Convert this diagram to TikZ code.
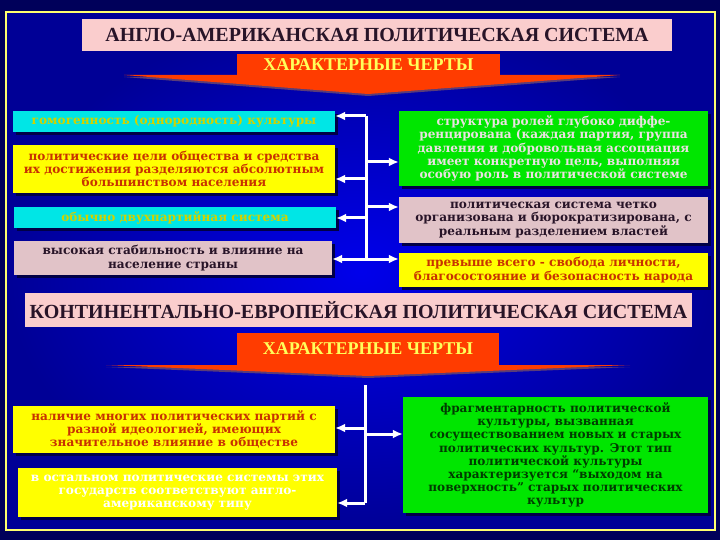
\documentclass[tikz,border=0pt]{standalone}
\usepackage{fontspec}
\setmainfont{Liberation Serif}
\newfontfamily\bodyfont{DejaVu Serif}
\usetikzlibrary{arrows.meta,shadows}

\definecolor{bgnavy}{RGB}{0,0,90}
\definecolor{bginner}{RGB}{0,0,235}
\definecolor{bgouter}{RGB}{0,0,150}
\definecolor{frameyellow}{RGB}{255,255,110}
\definecolor{shadownavy}{RGB}{0,0,70}
\definecolor{titlepink}{RGB}{250,205,205}
\definecolor{boxpink}{RGB}{225,195,200}
\definecolor{boxcyan}{RGB}{0,230,230}
\definecolor{boxyellow}{RGB}{255,255,0}
\definecolor{boxgreen}{RGB}{0,230,0}
\definecolor{arrowred}{RGB}{255,60,0}
\definecolor{wingshade}{RGB}{90,60,120}
\definecolor{featyellow}{RGB}{255,255,90}
\definecolor{textred}{RGB}{200,50,0}
\definecolor{textyellow}{RGB}{210,210,0}
\definecolor{textdark}{RGB}{40,20,40}
\definecolor{textlight}{RGB}{235,225,225}
\definecolor{textgreen}{RGB}{0,60,0}

\begin{document}
\begin{tikzpicture}[
    x=1pt, y=-1pt,
    >={Latex[length=10pt,width=9pt]},
    box/.style={rectangle, inner sep=0pt, align=center, font=\bodyfont\bfseries\fontsize{12.1}{13.2}\selectfont, drop shadow={fill=shadownavy, opacity=1, shadow xshift=3pt, shadow yshift=-3pt}},
    cyanbox/.style={box, fill=boxcyan, text=textyellow},
    yellowbox/.style={box, fill=boxyellow, text=textred},
    pinkbox/.style={box, fill=boxpink, text=textdark},
    greenbox/.style={box, fill=boxgreen, text=textlight},
    title/.style={rectangle, fill=titlepink, inner sep=0pt, text=textdark, font=\bfseries\fontsize{20}{22}\selectfont},
    feat/.style={rectangle, fill=arrowred, inner sep=0pt, text=featyellow, font=\bfseries\fontsize{18}{20}\selectfont},
    link/.style={->, draw=white, line width=3pt}
]

    \useasboundingbox (0, 0) rectangle (720, 540);
    \fill [bgnavy] (0, 0) rectangle (720, 540);
    \shade [inner color=bginner, outer color=bgouter] (6, 12) rectangle (715, 530);
    \draw [frameyellow, line width=2pt] (6, 12) rectangle (715, 530);

    \node [title, minimum width=590pt, minimum height=32pt] (T1) at (377, 35) {АНГЛО-АМЕРИКАНСКАЯ ПОЛИТИЧЕСКАЯ СИСТЕМА};
    \fill [wingshade] (124, 77) -- (620, 77) -- (368, 96) -- cycle;
    \fill [arrowred] (124, 75) -- (620, 75) -- (368, 94) -- cycle;
    \node [feat, minimum width=263pt, minimum height=21pt] (F1) at (368.5, 64.5) {ХАРАКТЕРНЫЕ ЧЕРТЫ};

    \node [cyanbox, minimum width=322pt, minimum height=21pt] (L1) at (174, 121.5) {гомогенность (однородность) культуры};
    \node [yellowbox, minimum width=322pt, minimum height=48pt] (L2) at (174, 169) {политические цели общества и средства\\их достижения разделяются абсолютным\\большинством населения};
    \node [cyanbox, minimum width=322pt, minimum height=21pt] (L3) at (175, 217.5) {обычно двухпартийная система};
    \node [pinkbox, minimum width=318pt, minimum height=34pt] (L4) at (173, 258) {высокая стабильность и влияние на\\население страны};

    \node [greenbox, minimum width=309pt, minimum height=75pt] (R1) at (553.5, 148.5) {структура ролей глубоко диффе-\\ренцирована (каждая партия, группа\\давления и добровольная ассоциация\\имеет конкретную цель, выполняя\\особую роль в политической системе};
    \node [pinkbox, minimum width=309pt, minimum height=46pt] (R2) at (553.5, 220) {политическая система четко\\организована и бюрократизирована, с\\реальным разделением властей};
    \node [yellowbox, minimum width=309pt, minimum height=34pt] (R3) at (553.5, 270) {превыше всего - свобода личности,\\благосостояние и безопасность народа};

    \coordinate (upA) at (366, 116);
    \coordinate (upB) at (366, 162);
    \coordinate (upC) at (366, 179);
    \coordinate (upD) at (366, 207);
    \coordinate (upE) at (366, 218);
    \coordinate (upF) at (366, 259);

    \draw [white, line width=3pt] (upA) -- (upF);
    \draw [link] (upA) -- (upA -| L1.east);
    \draw [link] (upC) -- (upC -| L2.east);
    \draw [link] (upE) -- (upE -| L3.east);
    \draw [link] (upF) -- (upF -| L4.east);
    \draw [link] (upB) -- (upB -| R1.west);
    \draw [link] (upD) -- (upD -| R2.west);
    \draw [link] (upF) -- (upF -| R3.west);

    \node [title, minimum width=667pt, minimum height=34pt] (T2) at (358.5, 310) {КОНТИНЕНТАЛЬНО-ЕВРОПЕЙСКАЯ ПОЛИТИЧЕСКАЯ СИСТЕМА};
    \fill [wingshade] (106, 367) -- (630, 367) -- (368, 378) -- cycle;
    \fill [arrowred] (106, 365) -- (630, 365) -- (368, 376) -- cycle;
    \node [feat, minimum width=262pt, minimum height=32pt] (F2) at (368, 349) {ХАРАКТЕРНЫЕ ЧЕРТЫ};

    \node [yellowbox, minimum width=322pt, minimum height=47pt] (L5) at (174, 429.5) {наличие многих политических партий с\\разной идеологией, имеющих\\значительное влияние в обществе};
    \node [yellowbox, text=white, minimum width=319pt, minimum height=49pt] (L6) at (177.5, 492.5) {в остальном политические системы этих\\государств соответствуют англо-\\американскому типу};
    \node [greenbox, text=textgreen, minimum width=305pt, minimum height=116pt] (R4) at (555.5, 455) {фрагментарность политической\\культуры, вызванная\\сосуществованием новых и старых\\политических культур. Этот тип\\политической культуры\\характеризуется “выходом на\\поверхность” старых политических\\культур};

    \coordinate (loA) at (365, 385);
    \coordinate (loB) at (365, 428);
    \coordinate (loC) at (365, 434);
    \coordinate (loD) at (365, 503);

    \draw [white, line width=3pt] (loA) -- (loD);
    \draw [link] (loB) -- (loB -| L5.east);
    \draw [link] (loD) -- (loD -| L6.east);
    \draw [link] (loC) -- (loC -| R4.west);

\end{tikzpicture}
\end{document}
